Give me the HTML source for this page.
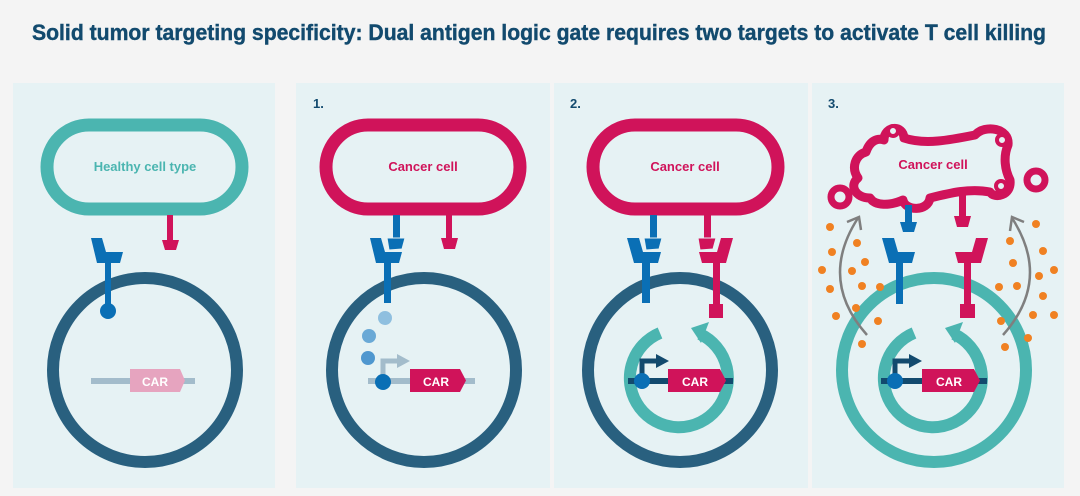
<!DOCTYPE html>
<html><head><meta charset="utf-8"><style>
html,body{margin:0;padding:0;background:#f5f5f5;}
svg{display:block;}
text{font-family:"Liberation Sans",sans-serif;font-weight:bold;}
</style></head><body>
<svg width="1080" height="496" viewBox="0 0 1080 496" xmlns="http://www.w3.org/2000/svg">
<rect width="1080" height="496" fill="#f4f4f4"/>
<text x="32" y="40" font-size="22" fill="#124a6e" stroke="#124a6e" stroke-width="0.4" textLength="1014" lengthAdjust="spacingAndGlyphs">Solid tumor targeting specificity: Dual antigen logic gate requires two targets to activate T cell killing</text>

<!-- panels -->
<rect x="13" y="83" width="262" height="405" fill="#e6f2f4"/>
<rect x="296" y="83" width="254" height="405" fill="#e6f2f4"/>
<rect x="554" y="83" width="254" height="405" fill="#e6f2f4"/>
<rect x="812" y="83" width="252" height="405" fill="#e6f2f4"/>

<text x="313" y="108" font-size="13" fill="#124a6e">1.</text>
<text x="570" y="108" font-size="13" fill="#124a6e">2.</text>
<text x="828" y="108" font-size="13" fill="#124a6e">3.</text>

<!-- ===== Panel 0 ===== -->
<rect x="47" y="125" width="195" height="84" rx="42" fill="none" stroke="#4bb5b0" stroke-width="13"/>
<text x="145" y="171" font-size="13" fill="#4bb5b0" text-anchor="middle">Healthy cell type</text>
<circle cx="145" cy="370" r="92" fill="none" stroke="#29607f" stroke-width="12"/>
<rect x="167" y="215" width="6" height="26" fill="#d0135a"/>
<polygon points="162,240 179,240 176,250 165,250" fill="#d0135a"/>
<polygon points="91,238 102,238 106,252 123,252 120,263 97,263" fill="#0a6fb5"/>
<rect x="105" y="262" width="6" height="49" fill="#0a6fb5"/>
<circle cx="108" cy="311" r="8" fill="#0a6fb5"/>
<rect x="91" y="378" width="104" height="6" fill="#a3bccb"/>
<polygon points="130,369 180,369 185,380.5 180,392 130,392" fill="#e6a4bf"/>
<text x="155" y="386" font-size="12" fill="#fff" text-anchor="middle">CAR</text>

<!-- ===== Panel 1 ===== -->
<rect x="326" y="125" width="194" height="84" rx="42" fill="none" stroke="#d0135a" stroke-width="13"/>
<text x="423" y="171" font-size="13" fill="#d0135a" text-anchor="middle">Cancer cell</text>
<circle cx="424" cy="370" r="92" fill="none" stroke="#29607f" stroke-width="12"/>
<rect x="446" y="215" width="6" height="24" fill="#d0135a"/>
<polygon points="441,238 458,238 455,249 444,249" fill="#d0135a"/>
<polygon points="370,238 381,238 385,252 402,252 399,263 376,263" fill="#0a6fb5"/>
<rect x="384" y="262" width="7" height="41" fill="#0a6fb5"/>
<rect x="393" y="215" width="7" height="24" fill="#0a6fb5"/>
<polygon points="387,238 405,238 402,249 389,250" fill="#0a6fb5" stroke="#e6f2f4" stroke-width="1"/>
<circle cx="385" cy="318" r="7" fill="#8fbfdf"/>
<circle cx="369" cy="336" r="7" fill="#6aa9d6"/>
<circle cx="368" cy="358" r="7" fill="#4f97cf"/>
<rect x="368" y="378" width="107" height="6" fill="#a3bccb"/>
<path d="M383,381 V361 H398" fill="none" stroke="#a3bccb" stroke-width="5"/>
<polygon points="397,354 410,361 397,368" fill="#a3bccb"/>
<circle cx="383" cy="382" r="8" fill="#0a6fb5"/>
<polygon points="410,369 460,369 466,380.5 460,392 410,392" fill="#d0135a"/>
<text x="436" y="386" font-size="12" fill="#fff" text-anchor="middle">CAR</text>

<!-- ===== Panel 2 ===== -->
<rect x="593" y="125" width="185" height="84" rx="42" fill="none" stroke="#d0135a" stroke-width="13"/>
<text x="685" y="171" font-size="13" fill="#d0135a" text-anchor="middle">Cancer cell</text>
<circle cx="680" cy="370" r="92" fill="none" stroke="#29607f" stroke-width="12"/>
<polygon points="627,238 639,238 643,252 661,252 658,263 634,263" fill="#0a6fb5"/>
<rect x="642" y="262" width="8" height="41" fill="#0a6fb5"/>
<rect x="650" y="215" width="7" height="24" fill="#0a6fb5"/>
<polygon points="644,238 662,238 659,249 646,250" fill="#0a6fb5" stroke="#e6f2f4" stroke-width="1"/>
<polygon points="733,238 721,238 717,252 699,252 702,263 726,263" fill="#d0135a"/>
<rect x="713" y="262" width="7" height="44" fill="#d0135a"/>
<rect x="709" y="304" width="14" height="14" fill="#d0135a"/>
<rect x="704" y="215" width="7" height="24" fill="#d0135a"/>
<polygon points="698,238 716,238 713,249 700,250" fill="#d0135a" stroke="#e6f2f4" stroke-width="1"/>
<path d="M700,334 A49 49 0 1 1 660,333" fill="none" stroke="#4bb5b0" stroke-width="12"/>
<polygon points="691,328 709,322 701,343" fill="#4bb5b0"/>
<rect x="628" y="378" width="105" height="6" fill="#124a6e"/>
<path d="M642,381 V361 H658" fill="none" stroke="#124a6e" stroke-width="5"/>
<polygon points="656,354 669,361 656,368" fill="#124a6e"/>
<circle cx="642" cy="381" r="8" fill="#0a6fb5"/>
<polygon points="668,369 720,369 726,380.5 720,392 668,392" fill="#d0135a"/>
<text x="695" y="386" font-size="12" fill="#fff" text-anchor="middle">CAR</text>

<!-- ===== Panel 3 ===== -->
<path d="M866,152 C870,140 878,138 884,140 C884,126 903,124 904,138 C925,145 950,140 975,135 C985,124 1010,128 1008,145 C1003,157 1005,170 1010,180 C1012,196 994,199 990,192 C970,188 950,193 930,198 C928,212 905,211 903,200 C890,206 875,206 870,198 C855,198 849,185 858,178 C851,168 855,155 866,152 Z" fill="none" stroke="#d0135a" stroke-width="9" stroke-linejoin="round"/>
<circle cx="893" cy="131" r="5" fill="#e6f2f4" stroke="#d0135a" stroke-width="4"/>
<circle cx="1002" cy="140" r="5" fill="#e6f2f4" stroke="#d0135a" stroke-width="4"/>
<circle cx="1001" cy="186" r="5" fill="#e6f2f4" stroke="#d0135a" stroke-width="4"/>
<text x="933" y="169" font-size="13" fill="#d0135a" text-anchor="middle">Cancer cell</text>
<circle cx="840" cy="197" r="9" fill="none" stroke="#d0135a" stroke-width="7"/>
<circle cx="1036" cy="180" r="9" fill="none" stroke="#d0135a" stroke-width="7"/>
<circle cx="934" cy="370" r="92" fill="none" stroke="#4bb5b0" stroke-width="12"/>
<rect x="905" y="205" width="7" height="18" fill="#0a6fb5"/>
<polygon points="900,222 917,222 914,232 903,232" fill="#0a6fb5"/>
<rect x="959" y="194" width="7" height="23" fill="#d0135a"/>
<polygon points="954,216 971,216 968,227 957,227" fill="#d0135a"/>
<polygon points="882,238 894,238 898,252 915,252 912,263 889,263" fill="#0a6fb5"/>
<rect x="896" y="262" width="7" height="42" fill="#0a6fb5"/>
<polygon points="988,238 976,238 972,252 955,252 958,263 981,263" fill="#d0135a"/>
<rect x="964" y="262" width="7" height="44" fill="#d0135a"/>
<rect x="960" y="304" width="15" height="14" fill="#d0135a"/>
<path d="M954,334 A49 49 0 1 1 914,333" fill="none" stroke="#4bb5b0" stroke-width="12"/>
<polygon points="945,328 963,322 955,343" fill="#4bb5b0"/>
<rect x="881" y="378" width="106" height="6" fill="#124a6e"/>
<path d="M895,381 V361 H911" fill="none" stroke="#124a6e" stroke-width="5"/>
<polygon points="909,354 922,361 909,368" fill="#124a6e"/>
<circle cx="895" cy="381" r="8" fill="#0a6fb5"/>
<polygon points="922,369 974,369 980,380.5 974,392 922,392" fill="#d0135a"/>
<text x="949" y="386" font-size="12" fill="#fff" text-anchor="middle">CAR</text>
<path d="M867,335 Q818,280 858,218" fill="none" stroke="#7f7f7f" stroke-width="2.5"/>
<path d="M847,222 L859,217 L861,230" fill="none" stroke="#7f7f7f" stroke-width="2.5"/>
<path d="M1003,335 Q1052,280 1012,218" fill="none" stroke="#7f7f7f" stroke-width="2.5"/>
<path d="M1010,231 L1012,217 L1024,222" fill="none" stroke="#7f7f7f" stroke-width="2.5"/>
<g fill="#f08122">
<circle cx="830" cy="227" r="4"/><circle cx="857" cy="243" r="4"/><circle cx="832" cy="252" r="4"/>
<circle cx="865" cy="262" r="4"/><circle cx="822" cy="270" r="4"/><circle cx="852" cy="271" r="4"/>
<circle cx="862" cy="286" r="4"/><circle cx="830" cy="289" r="4"/><circle cx="880" cy="287" r="4"/>
<circle cx="856" cy="308" r="4"/><circle cx="836" cy="316" r="4"/><circle cx="878" cy="321" r="4"/>
<circle cx="862" cy="344" r="4"/>
<circle cx="1036" cy="224" r="4"/><circle cx="1010" cy="241" r="4"/><circle cx="1043" cy="251" r="4"/>
<circle cx="1013" cy="263" r="4"/><circle cx="1054" cy="270" r="4"/><circle cx="1039" cy="276" r="4"/>
<circle cx="999" cy="287" r="4"/><circle cx="1017" cy="286" r="4"/><circle cx="1043" cy="296" r="4"/>
<circle cx="1001" cy="321" r="4"/><circle cx="1033" cy="315" r="4"/><circle cx="1054" cy="315" r="4"/>
<circle cx="1028" cy="338" r="4"/><circle cx="1005" cy="347" r="4"/>
</g>
</svg>
</body></html>
